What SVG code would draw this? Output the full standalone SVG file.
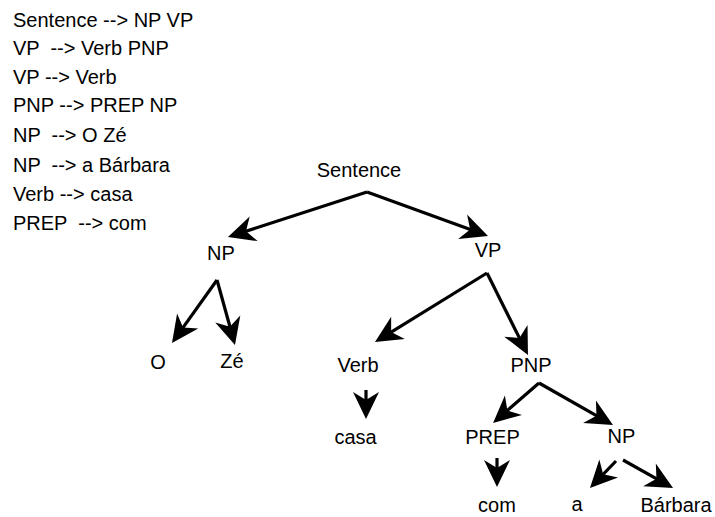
<svg xmlns="http://www.w3.org/2000/svg" width="715" height="517" viewBox="0 0 715 517">
<style>
text{font-family:"Liberation Sans",Arial,sans-serif;font-size:20px;fill:#000;white-space:pre}
.n text{text-anchor:middle}
.c line{stroke:#000;stroke-width:3.2;fill:none;marker-end:url(#ah)}
</style>
<defs>
<marker id="ah" markerUnits="userSpaceOnUse" viewBox="-30 -16 34 32" refX="-10" refY="0" markerWidth="34" markerHeight="32" orient="auto" overflow="visible">
<path d="M0,0 L-27,-13 L-19,0 L-27,13 Z" fill="#000"/>
</marker>
</defs>
<rect width="715" height="517" fill="#fff"/>
<g id="grammar">
<text x="13" y="27">Sentence --&gt; NP VP</text>
<text x="13" y="55">VP  --&gt; Verb PNP</text>
<text x="13" y="84">VP --&gt; Verb</text>
<text x="13" y="112">PNP --&gt; PREP NP</text>
<text x="13" y="142">NP  --&gt; O Zé</text>
<text x="13" y="172">NP  --&gt; a Bárbara</text>
<text x="13" y="201">Verb --&gt; casa</text>
<text x="13" y="230">PREP  --&gt; com</text>
</g>
<g class="c" id="connectors">
<line x1="367" y1="192" x2="237.5" y2="234"/>
<line x1="367" y1="192" x2="478.6" y2="232.6"/>
<line x1="217" y1="280" x2="177.8" y2="334.9"/>
<line x1="217" y1="280" x2="232.3" y2="335.3"/>
<line x1="487" y1="273" x2="383.5" y2="336.8"/>
<line x1="487" y1="273" x2="523.5" y2="346.1"/>
<line x1="366" y1="390" x2="366" y2="409"/>
<line x1="539" y1="383" x2="500.6" y2="416.4"/>
<line x1="539" y1="383" x2="604.3" y2="420.1"/>
<line x1="497" y1="458" x2="497" y2="477"/>
<line x1="616" y1="461" x2="596.9" y2="480.8"/>
<line x1="623" y1="460" x2="664.3" y2="483.1"/>
</g>
<g class="n">
<g id="n-sentence"><text x="359" y="177">Sentence</text></g>
<g id="n-np1"><text x="221" y="260">NP</text></g>
<g id="n-vp"><text x="488" y="257">VP</text></g>
<g id="n-o"><text x="158" y="369">O</text></g>
<g id="n-ze"><text x="232" y="368">Zé</text></g>
<g id="n-verb"><text x="358" y="372">Verb</text></g>
<g id="n-pnp"><text x="531" y="372">PNP</text></g>
<g id="n-casa"><text x="355.5" y="444">casa</text></g>
<g id="n-prep"><text x="492.5" y="444">PREP</text></g>
<g id="n-np2"><text x="621.5" y="443">NP</text></g>
<g id="n-com"><text x="497" y="512">com</text></g>
<g id="n-a"><text x="577" y="511">a</text></g>
<g id="n-barbara"><text x="676" y="512">Bárbara</text></g>
</g>
</svg>
